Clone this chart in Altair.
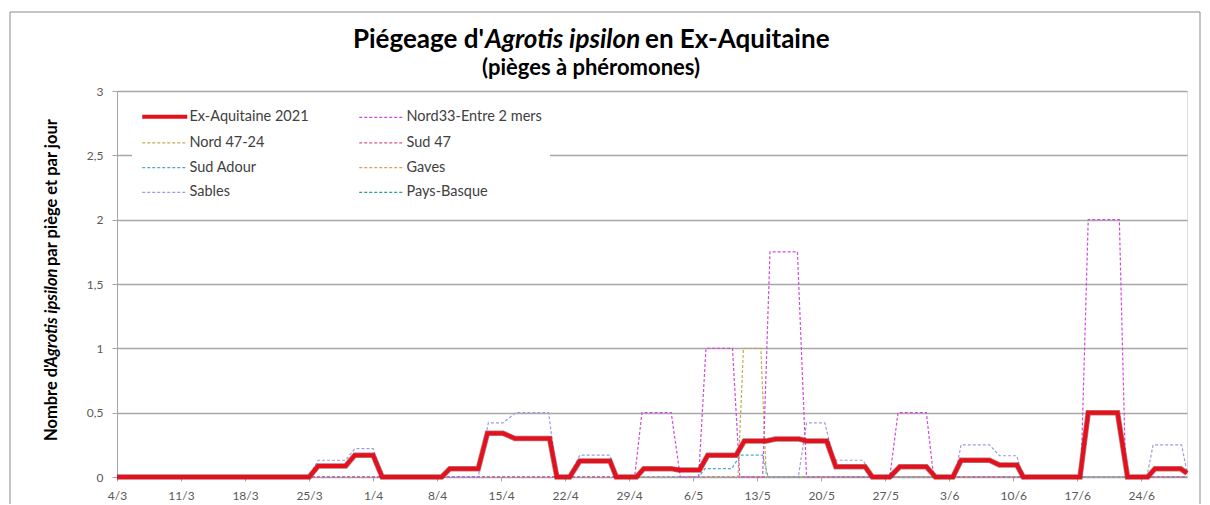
import altair as alt
import pandas as pd

# ---------------- data ----------------
tick_labels = ["4/3", "11/3", "18/3", "25/3", "1/4", "8/4", "15/4", "22/4", "29/4",
               "6/5", "13/5", "20/5", "27/5", "3/6", "10/6", "17/6", "24/6"]
tick_days = [0, 7, 14, 21, 28, 35, 42, 49, 56, 63, 70, 77, 84, 91, 98, 105, 112]
y_ticks = [0, 0.5, 1, 1.5, 2, 2.5, 3]

# legend order (filled column by column): left column then right column
series_names = ["Ex-Aquitaine 2021", "Nord 47-24", "Sud Adour", "Sables",
                "Nord33-Entre 2 mers", "Sud 47", "Gaves", "Pays-Basque"]
series_colors = ["#E5101C", "#C2AA52", "#52A8CC", "#9C9CE0",
                 "#D24AD8", "#D45C7C", "#E0A050", "#2EA090"]

red_days = [0, 21, 22, 25, 26, 28, 29, 35.5, 36.4, 39.5, 40.5, 42.2, 43.5, 47.3, 48.1,
            49.5, 50.6, 53.9, 54.6, 56.8, 57.6, 60.6, 61.4, 63.7, 64.6, 67.7, 68.6,
            71, 72, 74.6, 75.4, 77.6, 78.6, 81.8, 82.6, 84.5, 85.6, 88.5, 89.5,
            91.4, 92.3, 95.4, 96.5, 98.4, 99.1, 105.3, 106.2, 109.4, 110.5,
            112.7, 113.5, 116.3, 117]
red_vals = [0, 0, 0.085, 0.085, 0.17, 0.17, 0, 0, 0.065, 0.065, 0.34, 0.34, 0.30, 0.30, 0,
            0, 0.125, 0.125, 0, 0, 0.065, 0.065, 0.055, 0.055, 0.17, 0.17, 0.28,
            0.28, 0.295, 0.295, 0.28, 0.28, 0.08, 0.08, 0, 0, 0.08, 0.08, 0,
            0, 0.13, 0.13, 0.093, 0.093, 0, 0, 0.5, 0.5, 0,
            0, 0.065, 0.065, 0.03]

n33_days = [0, 56.6, 57.4, 60.6, 61.6, 63.6, 64.4, 67.3, 68.1, 70.6, 71.4, 74.4, 75.4,
            84.5, 85.4, 88.5, 89.3, 105.4, 106.2, 109.6, 110.3, 117]
n33_vals = [0, 0, 0.5, 0.5, 0, 0, 1.0, 1.0, 0, 0, 1.75, 1.75, 0,
            0, 0.5, 0.5, 0, 0, 2.0, 2.0, 0, 0]

n47_days = [0, 67.9, 68.5, 70.4, 71.0, 117]
n47_vals = [0, 0, 1.0, 1.0, 0, 0]

s47_days = [0, 117]
s47_vals = [0, 0]

adour_days = [0, 63.6, 64.3, 67.2, 68.2, 70.6, 71.2, 117]
adour_vals = [0, 0, 0.065, 0.065, 0.17, 0.17, 0, 0]

gaves_days = [0, 117]
gaves_vals = [0, 0]

sables_days = [0, 21, 22, 25, 26, 28, 29, 39.5, 40.6, 42.2, 43.6, 47.2, 48.1,
               49.5, 50.6, 53.9, 54.6, 74.5, 75.4, 77.4, 78.4, 81.6, 82.5,
               91.6, 92.3, 95.4, 96.5, 98.4, 99.0, 112.6, 113.3, 116.4, 117]
sables_vals = [0, 0, 0.13, 0.13, 0.22, 0.22, 0, 0, 0.42, 0.42, 0.5, 0.5, 0,
               0, 0.17, 0.17, 0, 0, 0.42, 0.42, 0.13, 0.13, 0,
               0, 0.25, 0.25, 0.165, 0.165, 0, 0, 0.25, 0.25, 0.04]

pb_days = [0, 117]
pb_vals = [0, 0]

# ---------------- tables ----------------
def frame(name, days, vals):
    return pd.DataFrame({"series": name, "day": days, "value": vals, "k": range(len(days))})

dashed_df = pd.concat([
    frame("Pays-Basque", pb_days, pb_vals),
    frame("Gaves", gaves_days, gaves_vals),
    frame("Sud 47", s47_days, s47_vals),
    frame("Sud Adour", adour_days, adour_vals),
    frame("Nord 47-24", n47_days, n47_vals),
    frame("Sables", sables_days, sables_vals),
    frame("Nord33-Entre 2 mers", n33_days, n33_vals),
], ignore_index=True)
red_df = frame("Ex-Aquitaine 2021", red_days, red_vals)

FONT = "Lato"
label_expr = "[" + ",".join("'%s'" % t for t in tick_labels) + "][round(datum.value/7)]"

x_enc = alt.X("day:Q",
              scale=alt.Scale(domain=[0, 117], nice=False, zero=False),
              axis=alt.Axis(values=tick_days, labelExpr=label_expr, grid=False, title=None,
                            domainColor="#a6a6a6", tickColor="#a6a6a6", tickSize=4,
                            labelFont=FONT, labelFontSize=12, labelColor="#595959",
                            labelPadding=9, labelFlush=False))
y_enc = alt.Y("value:Q",
              scale=alt.Scale(domain=[0, 3], nice=False),
              axis=alt.Axis(values=y_ticks, labelExpr="replace(toString(datum.value), '.', ',')",
                            title=None, gridColor="#a8a8a8", gridWidth=1.5,
                            domainColor="#a6a6a6", tickColor="#a6a6a6", tickSize=5,
                            labelFont=FONT, labelFontSize=12, labelColor="#595959",
                            labelPadding=9))

legend = alt.Legend(orient="none", legendX=15, legendY=10, columns=2, title=None,
                    symbolType="M-1,0H8", symbolSize=100, labelFont=FONT,
                    labelFontSize=14.5, labelColor="#404040", columnPadding=47,
                    rowPadding=9.7, fillColor="white", padding=8, labelOffset=35)

color_enc = alt.Color("series:N", scale=alt.Scale(domain=series_names, range=series_colors),
                      legend=legend)
dash_enc = alt.StrokeDash("series:N",
                          scale=alt.Scale(domain=series_names,
                                          range=[[1, 0]] + [[3, 2]] * 7),
                          legend=legend)
width_enc = alt.StrokeWidth("series:N",
                            scale=alt.Scale(type="ordinal", domain=series_names,
                                            range=[4] + [1.2] * 7),
                            legend=legend)

dashed = alt.Chart(dashed_df).mark_line().encode(
    x=x_enc, y=y_enc, color=color_enc, strokeDash=dash_enc, strokeWidth=width_enc,
    order="k:Q")

red_under = alt.Chart(red_df).mark_line(color="#7a1018", strokeWidth=5.5, opacity=0.55).encode(
    x=x_enc, y=y_enc, order="k:Q")
red_line = alt.Chart(red_df).mark_line().encode(
    x=x_enc, y=y_enc, color=color_enc, strokeDash=dash_enc, strokeWidth=width_enc,
    order="k:Q")

one = pd.DataFrame({"a": [0]})

border = alt.Chart(one).mark_rect(fill=None, stroke="#8a8a8a", strokeWidth=1).encode(
    x=alt.value(-107), x2=alt.value(1083), y=alt.value(-79), y2=alt.value(440))

def txt(s, x, y, size, italic=False, align="left", angle=0, weight="bold"):
    return alt.Chart(one).mark_text(
        text=s, font=FONT, fontSize=size, fontWeight=weight,
        fontStyle="italic" if italic else "normal", align=align, baseline="middle",
        angle=angle, color="#000000").encode(x=alt.value(x), y=alt.value(y))

t1 = txt("Piégeage d'", 367, -51, 26, align="right")
t2 = txt("Agrotis ipsilon", 368, -51, 26, italic=True)
t3 = txt("en Ex-Aquitaine", 528, -51, 26)
t4 = txt("(pièges à phéromones)", 474, -23, 22, align="center")

yt1 = txt("Nombre d'", -65, 350, 16.5, angle=270)
yt2 = txt("Agrotis ipsilon", -65, 276, 16.5, italic=True, angle=270)
yt3 = txt("par piège et par jour", -65, 175, 16.5, angle=270)

chart = alt.layer(border, dashed, red_under, red_line, t1, t2, t3, t4, yt1, yt2, yt3).resolve_scale(
    color="shared", strokeDash="shared", strokeWidth="shared"
).properties(
    width=1070, height=386,
    autosize=alt.AutoSizeParams(type="none"),
    padding={"left": 109, "top": 83, "right": 15, "bottom": 27},
).configure_view(stroke=None).configure(font=FONT)

chart.save("out.html", embed_options={"renderer": "svg", "actions": False})
